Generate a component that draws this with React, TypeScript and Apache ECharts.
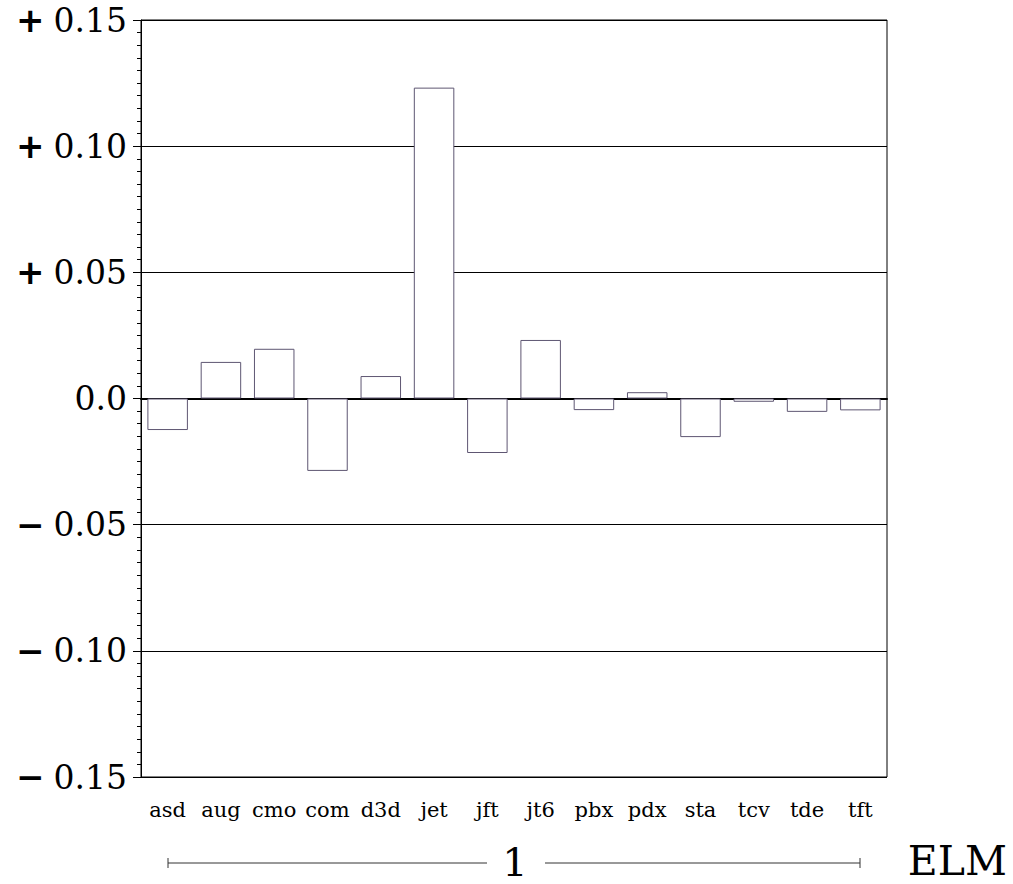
import React, { useEffect, useRef } from "react";
import * as echarts from "echarts";

const categories = ["asd", "aug", "cmo", "com", "d3d", "jet", "jft", "jt6", "pbx", "pdx", "sta", "tcv", "tde", "tft"];
const values = [-0.0125, 0.0145, 0.0197, -0.0287, 0.0089, 0.1232, -0.0216, 0.0232, -0.0046, 0.0025, -0.0153, -0.0013, -0.0053, -0.0047];
const groupLabel = "1";
const groupTitle = "ELM";

const W = 1013;
const H = 884;
const GL = 141, GT = 20, GW = 746, GH = 757;

function fmtY(v: number): string {
  const a = Math.abs(v);
  if (a < 1e-9) return "{n|0.0}";
  const s = a.toFixed(2);
  return v > 0 ? "{s|+}{n|" + s + "}" : "{s|\u2212}{n|" + s + "}";
}

export default function App() {
  const ref = useRef<HTMLDivElement>(null);
  useEffect(() => {
    if (!ref.current) return;
    const chart = echarts.init(ref.current, null, { renderer: "svg" });
    const lineY = 863;
    const x0 = 168, x1 = 860;
    chart.setOption({
      animation: false,
      backgroundColor: "#ffffff",
      textStyle: { fontFamily: "DejaVu Serif" },
      grid: {
        left: GL, top: GT, width: GW, height: GH,
        show: true, borderColor: "#000", borderWidth: 1, backgroundColor: "transparent",
      },
      xAxis: [
        {
          type: "category",
          data: categories,
          position: "bottom",
          axisLine: { show: false, onZero: false },
          axisTick: { show: false },
          axisLabel: {
            color: "#000", fontFamily: "DejaVu Serif", fontSize: 21, margin: 22, interval: 0,
          },
          splitLine: { show: false },
        },
        {
          type: "category",
          data: categories,
          position: "bottom",
          axisLine: { show: true, onZero: true, lineStyle: { color: "#000", width: 2 } },
          axisTick: { show: false },
          axisLabel: { show: false },
          splitLine: { show: false },
        },
      ],
      yAxis: {
        type: "value",
        min: -0.15,
        max: 0.15,
        interval: 0.05,
        axisLine: { show: true, lineStyle: { color: "#000", width: 1 } },
        axisTick: { show: true, length: 8, lineStyle: { color: "#000" } },
        minorTick: { show: true, splitNumber: 10, length: 4, lineStyle: { color: "#000" } },
        splitLine: { show: true, lineStyle: { color: "#000", width: 1 } },
        axisLabel: {
          margin: 14,
          fontFamily: "DejaVu Serif",
          fontSize: 33,
          lineHeight: 34,
          color: "#000",
          formatter: (v: number) => fmtY(v),
          rich: {
            s: { fontFamily: "DejaVu Sans", fontWeight: "bold", fontSize: 34, lineHeight: 34, color: "#000", padding: [0, 9, 0, 0] },
            n: { fontFamily: "DejaVu Serif", fontSize: 33, lineHeight: 34, color: "#000" },
          },
        },
      },
      series: [
        {
          type: "bar",
          data: values,
          barWidth: "76%",
          xAxisIndex: 0,
          itemStyle: { color: "#ffffff", borderColor: "#5e5672", borderWidth: 1 },
          z: 3,
        },
      ],
      graphic: [
        { type: "line", shape: { x1: x0, y1: lineY, x2: 487, y2: lineY }, style: { stroke: "#333", lineWidth: 1 } },
        { type: "line", shape: { x1: 545, y1: lineY, x2: x1, y2: lineY }, style: { stroke: "#333", lineWidth: 1 } },
        { type: "line", shape: { x1: x0, y1: lineY - 5, x2: x0, y2: lineY + 5 }, style: { stroke: "#333", lineWidth: 1 } },
        { type: "line", shape: { x1: x1, y1: lineY - 5, x2: x1, y2: lineY + 5 }, style: { stroke: "#333", lineWidth: 1 } },
        {
          type: "text", x: 515, y: 862,
          style: { text: groupLabel, fontFamily: "DejaVu Serif", fontSize: 40, fill: "#000", textAlign: "center", textVerticalAlign: "middle" },
        },
        {
          type: "text", x: 1007, y: 861,
          style: { text: groupTitle, fontFamily: "DejaVu Serif", fontSize: 41, fill: "#000", textAlign: "right", textVerticalAlign: "middle" },
        },
      ],
    });
    return () => chart.dispose();
  }, []);
  return <div ref={ref} style={{ position: "absolute", left: 0, top: 0, width: W, height: H }} />;
}
